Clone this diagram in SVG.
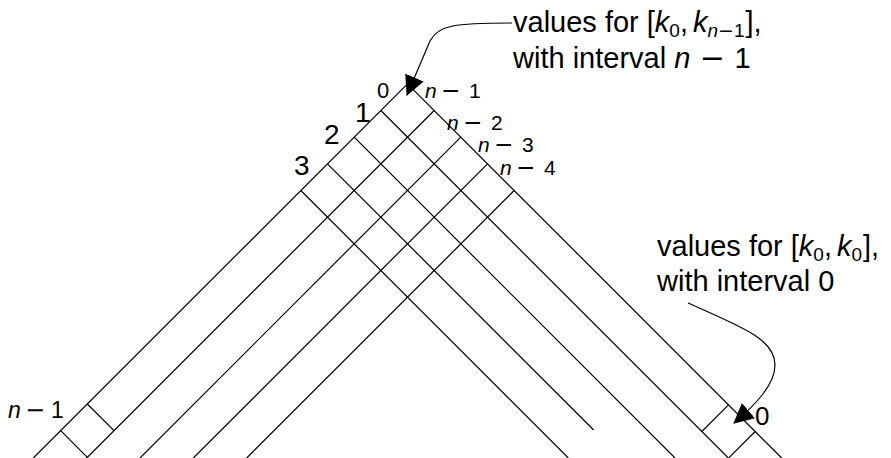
<svg xmlns="http://www.w3.org/2000/svg" width="891" height="458" viewBox="0 0 891 458">
<style>
.ln{stroke:#000;stroke-width:1.2;fill:none;stroke-linecap:butt}
.t{font-family:"Liberation Sans",Arial,sans-serif;fill:#000}
.i{font-style:italic}
.m{font-family:"DejaVu Sans",sans-serif}
</style>
<defs>
<marker id="ah" viewBox="0 0 20 20" markerWidth="20" markerHeight="20" refX="19" refY="10" orient="auto" markerUnits="userSpaceOnUse">
<path d="M0,0 L20,10 L0,20 Z" fill="#000"/>
</marker>
</defs>
<rect width="891" height="458" fill="#fff"/>
<g id="grid" class="ln">
<path d="M407.5 83.8 L33.3 458 M434.2 110.5 L86.7 458 M460.8 137.2 L140 458 M487.5 163.8 L193.3 458 M514.2 190.5 L246.7 458"/>
<path d="M407.5 83.8 L781.7 458 M380.8 110.5 L728.3 458 M354.2 137.2 L675 458 M327.5 163.8 L593.7 430 M300.8 190.5 L568.3 458"/>
<path d="M87.3 404 L114 430.7 M60.7 430.7 L87.3 457.3 M701.8 431.5 L728.5 404.8 M728.5 458.1 L755.2 431.5"/>
</g>
<g id="row-labels" class="t">
<text x="377" y="98" font-size="22">0</text>
<text x="355" y="121.5" font-size="28">1</text>
<text x="324" y="143.5" font-size="28">2</text>
<text x="294" y="175" font-size="28">3</text>
<text x="8" y="417.5" font-size="23"><tspan class="i">n</tspan><tspan class="m" x="25" font-size="24">−</tspan><tspan x="51">1</tspan></text>
</g>
<g id="col-labels" class="t" font-size="21">
<text x="425" y="98"><tspan class="i">n</tspan><tspan class="m" x="441" font-size="23">−</tspan><tspan x="469">1</tspan></text>
<text x="447" y="129.5"><tspan class="i">n</tspan><tspan class="m" x="463" font-size="23">−</tspan><tspan x="491">2</tspan></text>
<text x="478" y="152"><tspan class="i">n</tspan><tspan class="m" x="494" font-size="23">−</tspan><tspan x="522">3</tspan></text>
<text x="500" y="175"><tspan class="i">n</tspan><tspan class="m" x="516" font-size="23">−</tspan><tspan x="544">4</tspan></text>
<text x="755" y="425" font-size="26">0</text>
</g>
<g id="note-top" class="t" font-size="29">
<text x="513" y="32">values for [<tspan class="i">k</tspan><tspan dy="5" font-size="19">0</tspan><tspan dy="-5">,</tspan><tspan class="i" dx="5">k</tspan><tspan dy="5" font-size="19"><tspan class="i">n</tspan><tspan class="m">−</tspan>1</tspan><tspan dy="-5" dx="1">],</tspan></text>
<text x="513" y="68">with interval <tspan class="i">n</tspan><tspan class="m" font-size="30"> − </tspan>1</text>
</g>
<g id="note-bottom" class="t" font-size="29">
<text x="657" y="256">values for [<tspan class="i">k</tspan><tspan dy="5" font-size="19">0</tspan><tspan dy="-5">,</tspan><tspan class="i" dx="5">k</tspan><tspan dy="5" font-size="19">0</tspan><tspan dy="-5" dx="1">],</tspan></text>
<text x="657" y="291">with interval 0</text>
</g>
<g id="connectors" class="ln">
<path d="M512 23 C455 23 438 25 430 41 L407 95" marker-end="url(#ah)"/>
<path d="M688 303 C745 328 775 340 775 365 C775 385 755 405 734 423" marker-end="url(#ah)"/>
</g>
</svg>
